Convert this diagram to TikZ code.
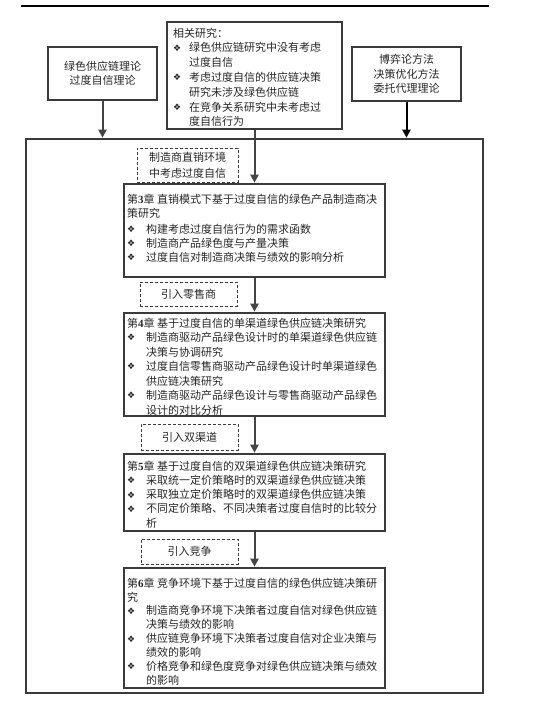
\documentclass[tikz,border=0pt]{standalone}
\usepackage{fontspec}
\setmainfont{Noto Sans CJK SC}
\newfontfamily\dejavu{DejaVu Sans}
\newfontfamily\tnr{Liberation Serif}
\usetikzlibrary{arrows.meta}
\definecolor{bd}{HTML}{3A3A3A}
\definecolor{tx}{HTML}{262626}
\definecolor{ar}{HTML}{444444}
\newcommand{\bulC}{\makebox[19pt][l]{\raisebox{0.6pt}{\dejavu\fontsize{9}{9}\selectfont ❖}}}
\newcommand{\contC}{\makebox[19pt]{}}
\newcommand{\bulM}{\makebox[16pt][l]{\raisebox{0.6pt}{\dejavu\fontsize{9}{9}\selectfont ❖}}}
\newcommand{\contM}{\makebox[16pt]{}}
\newcommand{\chn}[1]{{\tnr\bfseries #1}}
\tikzset{
  box/.style={draw=bd, line width=2.6pt, inner sep=0pt},
  sbox/.style={draw=bd, line width=2.4pt, inner sep=0pt, align=center, text=tx,
    font={\fontsize{11}{14.5}\selectfont}},
  dbox/.style={draw=bd, line width=1pt, dash pattern=on 3pt off 2pt, inner sep=0pt,
    align=center, text=tx, font={\fontsize{11}{16}\selectfont}},
  txt/.style={anchor=north west, inner sep=0pt, align=left, text=tx},
  arr/.style={draw=ar, line width=2pt, -{Triangle[length=8pt,width=8pt]}},
}
\begin{document}
\begin{tikzpicture}[x=1pt,y=-1pt]
\useasboundingbox (0,0) rectangle (550,712);
% top rule
\draw[line width=2pt, black] (21,6) -- (489,6);
% outer frame
\node[box, minimum width=457pt, minimum height=554pt] (frame) at (254.5,416) {};
% top boxes
\node[sbox, minimum width=109pt, minimum height=53pt] (lb) at (102.5,73.5)
  {绿色供应链理论\\过度自信理论};
\node[sbox, minimum width=109pt, minimum height=54pt] (rb) at (406.5,74)
  {博弈论方法\\决策优化方法\\委托代理理论};
\node[box, minimum width=175pt, minimum height=107pt] (mb) at (254.5,75.5) {};
\node[txt, font={\fontsize{11}{14.8}\selectfont}] (mbt) at (173,27.5)
  {相关研究：\\
   \bulM 绿色供应链研究中没有考虑\\
   \contM 过度自信\\
   \bulM 考虑过度自信的供应链决策\\
   \contM 研究未涉及绿色供应链\\
   \bulM 在竞争关系研究中未考虑过\\
   \contM 度自信行为};
% chapter boxes
\node[box, minimum width=261pt, minimum height=93pt] (c3) at (254.5,230.5) {};
\node[txt, font={\fontsize{11}{14}\selectfont}] (c3t) at (127,193.5)
  {第\chn{3}章 直销模式下基于过度自信的绿色产品制造商决\\
   策研究\\[2pt]
   \bulC 构建考虑过度自信行为的需求函数\\
   \bulC 制造商产品绿色度与产量决策\\
   \bulC 过度自信对制造商决策与绩效的影响分析};
\node[box, minimum width=261pt, minimum height=103pt] (c4) at (254.5,364.5) {};
\node[txt, font={\fontsize{11}{14.5}\selectfont}] (c4t) at (127,317.5)
  {第\chn{4}章 基于过度自信的单渠道绿色供应链决策研究\\
   \bulC 制造商驱动产品绿色设计时的单渠道绿色供应链\\
   \contC 决策与协调研究\\
   \bulC 过度自信零售商驱动产品绿色设计时单渠道绿色\\
   \contC 供应链决策研究\\
   \bulC 制造商驱动产品绿色设计与零售商驱动产品绿色\\
   \contC 设计的对比分析};
\node[box, minimum width=261pt, minimum height=77pt] (c5) at (254.5,492.5) {};
\node[txt, font={\fontsize{11}{14.25}\selectfont}] (c5t) at (127,460.5)
  {第\chn{5}章 基于过度自信的双渠道绿色供应链决策研究\\
   \bulC 采取统一定价策略时的双渠道绿色供应链决策\\
   \bulC 采取独立定价策略时的双渠道绿色供应链决策\\
   \bulC 不同定价策略、不同决策者过度自信时的比较分\\
   \contC 析};
\node[box, minimum width=261pt, minimum height=120pt] (c6) at (254.5,628) {};
\node[txt, font={\fontsize{11}{13.9}\selectfont}] (c6t) at (127,577.5)
  {第\chn{6}章 竞争环境下基于过度自信的绿色供应链决策研\\
   究\\
   \bulC 制造商竞争环境下决策者过度自信对绿色供应链\\
   \contC 决策与绩效的影响\\
   \bulC 供应链竞争环境下决策者过度自信对企业决策与\\
   \contC 绩效的影响\\
   \bulC 价格竞争和绿色度竞争对绿色供应链决策与绩效\\
   \contC 的影响};
% dashed labels
\node[dbox, minimum width=101pt, minimum height=34pt] (d1) at (187.5,165) {制造商直销环境\\中考虑过度自信};
\node[dbox, minimum width=97pt, minimum height=24pt] (d2) at (188.5,294) {引入零售商};
\node[dbox, minimum width=97pt, minimum height=26pt] (d3) at (189.5,437) {引入双渠道};
\node[dbox, minimum width=97pt, minimum height=25pt] (d4) at (189.5,551.5) {引入竞争};
% arrows
\draw[arr] (lb.south) -- (lb.south |- frame.north);
\draw[arr, draw=black] (rb.south) -- (rb.south |- frame.north);
\draw[arr] (mb.south) -- (c3.north);
\draw[arr] (c3.south) -- (c4.north);
\draw[arr] (c4.south) -- (c5.north);
\draw[arr] (c5.south) -- (c6.north);
\end{tikzpicture}
\end{document}
